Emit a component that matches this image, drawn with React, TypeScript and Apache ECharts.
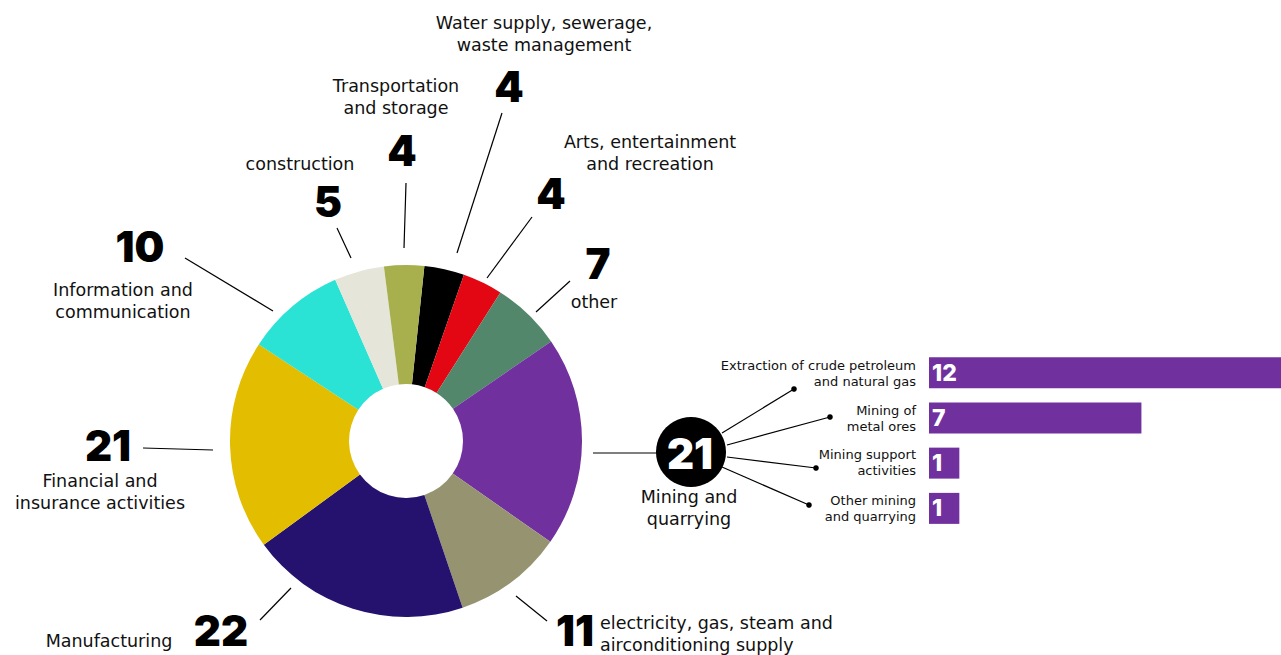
import React, { useEffect, useRef } from "react";
import * as echarts from "echarts";

// Donut data (clockwise from top)
const sectorNames = [
  "Water supply, sewerage,\nwaste management",
  "Arts, entertainment\nand recreation",
  "other",
  "Mining and\nquarrying",
  "electricity, gas, steam and\nairconditioning supply",
  "Manufacturing",
  "Financial and\ninsurance activities",
  "Information and\ncommunication",
  "construction",
  "Transportation\nand storage",
];
const sectorValues = [4, 4, 7, 21, 11, 22, 21, 10, 5, 4];
const sectorColors = [
  "#000000",
  "#e30613",
  "#52876b",
  "#70309e",
  "#969470",
  "#25116e",
  "#e3bd00",
  "#2ae3d4",
  "#e5e5d9",
  "#a8b04e",
];

// Mining breakdown
const miningNames = [
  "Extraction of crude petroleum\nand natural gas",
  "Mining of\nmetal ores",
  "Mining support\nactivities",
  "Other mining\nand quarrying",
];
const miningValues = [12, 7, 1, 1];

const FONT = "'DejaVu Sans', 'Noto Sans', sans-serif";
const NUMFONT = "Inter, 'Noto Sans', sans-serif";

// layout for each sector label: number position, name position, leader line
const layout = [
  { num: [509, 86], name: [544, 34], nameAlign: "center", line: [[502, 113], [457, 253]] },
  { num: [551, 193], name: [650, 153], nameAlign: "center", line: [[532, 217], [487, 278]] },
  { num: [598, 263], name: [594, 302], nameAlign: "center", line: [[570, 281], [536, 312]] },
  { num: null, name: [689, 508], nameAlign: "center", line: [[593, 453], [657, 453]] },
  { num: [575, 630], name: [600, 634], nameAlign: "left", line: [[516, 596], [547, 621]] },
  { num: [221, 630], name: [109, 641], nameAlign: "center", line: [[260, 620], [291, 588]] },
  { num: [108, 445], name: [100, 492], nameAlign: "center", line: [[143, 448], [213, 450]] },
  { num: [140, 246], name: [123, 301], nameAlign: "center", line: [[185, 258], [273, 311]] },
  { num: [328, 201], name: [300, 164], nameAlign: "center", line: [[337, 228], [351, 258]] },
  { num: [402, 150], name: [396, 97], nameAlign: "center", line: [[406, 183], [404, 248]] },
];

const miningCircle = { cx: 691, cy: 452, r: 35 };
const miningDots = [
  [[722, 433], [794, 389]],
  [[727, 445], [830, 417]],
  [[727, 457], [816, 468]],
  [[722, 467], [809, 505]],
];
const miningLabelPos = [373, 418, 462, 508];

export default function App() {
  const ref = useRef<HTMLDivElement>(null);
  useEffect(() => {
    if (!ref.current) return;
    const chart = echarts.init(ref.current, null, { renderer: "svg" });
    const graphics: any[] = [];
    layout.forEach((l, i) => {
      graphics.push({
        type: "line",
        shape: { x1: l.line[0][0], y1: l.line[0][1], x2: l.line[1][0], y2: l.line[1][1] },
        style: { stroke: "#000", lineWidth: 1.2 },
      });
      if (l.num) {
        graphics.push({
          type: "text",
          x: l.num[0],
          y: l.num[1],
          style: {
            text: String(sectorValues[i]),
            font: `900 42px ${NUMFONT}`,
            fill: "#000",
            textAlign: "center",
            textVerticalAlign: "middle",
          },
        });
      }
      graphics.push({
        type: "text",
        x: l.name[0],
        y: l.name[1],
        style: {
          text: sectorNames[i],
          font: `400 17.5px ${FONT}`,
          lineHeight: 22,
          fill: "#111",
          textAlign: l.nameAlign,
          textVerticalAlign: "middle",
        },
      });
    });
    // mining circle
    miningDots.forEach((d) => {
      graphics.push({
        type: "line",
        shape: { x1: d[0][0], y1: d[0][1], x2: d[1][0], y2: d[1][1] },
        style: { stroke: "#000", lineWidth: 1.2 },
      });
      graphics.push({
        type: "circle",
        shape: { cx: d[1][0], cy: d[1][1], r: 2.8 },
        style: { fill: "#000" },
      });
    });
    graphics.push({
      type: "circle",
      shape: { cx: miningCircle.cx, cy: miningCircle.cy, r: miningCircle.r },
      style: { fill: "#000" },
    });
    graphics.push({
      type: "text",
      x: miningCircle.cx - 1,
      y: miningCircle.cy + 1,
      style: {
        text: String(sectorValues[3]),
        font: `900 42px ${NUMFONT}`,
        fill: "#fff",
        textAlign: "center",
        textVerticalAlign: "middle",
      },
    });
    miningNames.forEach((n, i) => {
      graphics.push({
        type: "text",
        x: 916,
        y: miningLabelPos[i],
        style: {
          text: n,
          font: `400 13px ${FONT}`,
          lineHeight: 16,
          fill: "#111",
          textAlign: "right",
          textVerticalAlign: "middle",
        },
      });
    });

    chart.setOption({
      animation: false,
      grid: { left: 929, top: 350, width: 352, height: 181 },
      xAxis: { type: "value", min: 0, max: 11.6, show: false },
      yAxis: {
        type: "category",
        data: miningNames,
        inverse: true,
        show: false,
      },
      series: [
        {
          type: "pie",
          center: [406, 441],
          radius: [57, 176],
          startAngle: 84,
          clockwise: true,
          label: { show: false },
          labelLine: { show: false },
          itemStyle: { borderWidth: 0 },
          data: sectorNames.map((n, i) => ({
            name: n,
            value: sectorValues[i],
            itemStyle: { color: sectorColors[i] },
          })),
        },
        {
          type: "bar",
          data: miningValues,
          barWidth: 31,
          itemStyle: { color: "#70309e" },
          label: {
            show: true,
            position: "insideLeft",
            offset: [-2, 0],
            color: "#fff",
            fontFamily: "Inter, sans-serif",
            fontWeight: 800,
            fontSize: 23,
          },
        },
      ],
      graphic: graphics,
    });
    return () => chart.dispose();
  }, []);
  return (
    <div
      ref={ref}
      style={{ position: "fixed", left: 0, top: 0, width: 1281, height: 655, background: "#fff" }}
    />
  );
}
